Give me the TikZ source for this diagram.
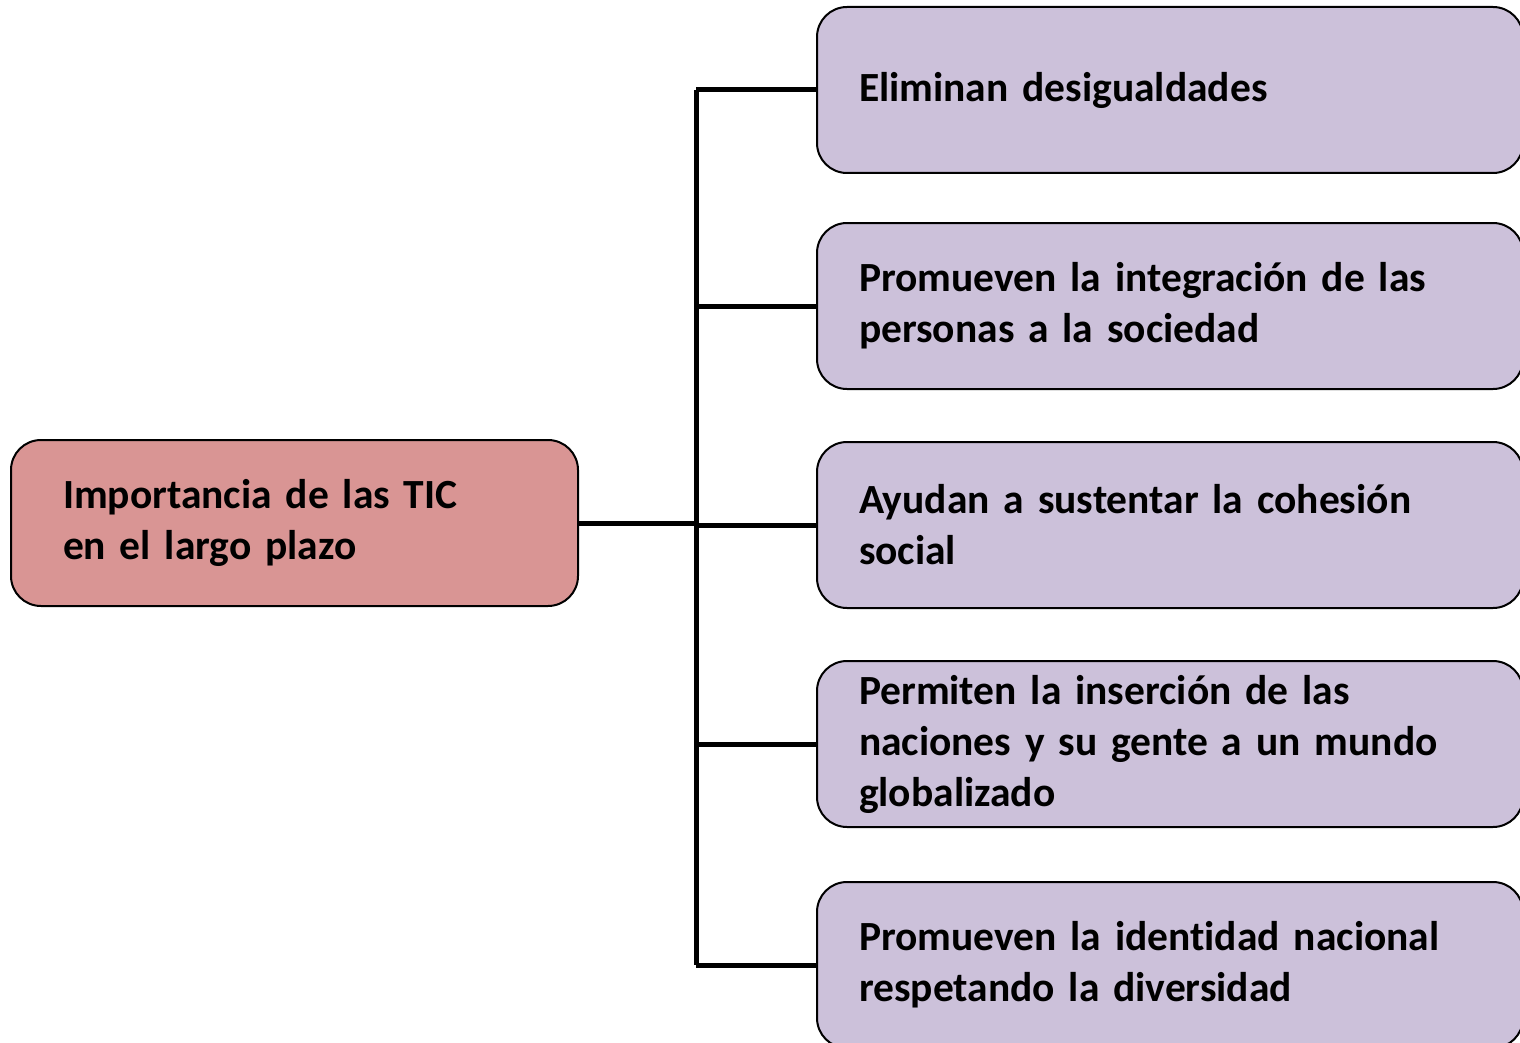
\documentclass[tikz,border=0pt]{standalone}
\usepackage{fontspec}
\setmainfont{Carlito}[Ligatures={NoCommon,TeX}]
\definecolor{rootfill}{HTML}{D99594}
\definecolor{leaffill}{HTML}{CCC1DA}
\newcommand{\myboxfont}{\fontsize{41.5}{51}\selectfont\bfseries}
\begin{document}
\begin{tikzpicture}[x=1pt,y=-1pt,
  box/.style={draw=black, line width=2pt, rounded corners=30pt, align=left,
    inner xsep=42pt, inner ysep=0pt, font=\myboxfont},
  leaf/.style={box, fill=leaffill, minimum width=706pt, text width=622pt, minimum height=166pt, anchor=north west},
  conn/.style={line width=5pt, draw=black}]
\useasboundingbox (0,0) rectangle (1520,1043);
\node[box, fill=rootfill, inner xsep=52pt, minimum width=567pt, text width=463pt, minimum height=166pt, anchor=north west] (root) at (10,439) {Importancia de las TIC\\en el largo plazo};
\node[leaf] (b1) at (816,6) {Eliminan desigualdades};
\node[leaf] (b2) at (816,222) {Promueven la integración de las\\personas a la sociedad};
\node[leaf] (b3) at (816,441) {Ayudan a sustentar la cohesión\\social};
\node[leaf] (b4) at (816,660) {Permiten la inserción de las\\naciones y su gente a un mundo\\globalizado};
\node[leaf] (b5) at (816,881) {Promueven la identidad nacional\\respetando la diversidad};
\coordinate (ttop) at (696,89);
\draw[conn] (b1.west -| ttop) -- (b5.west -| ttop);
\draw[conn] (root.east) -- (root.east -| ttop);
\foreach \i in {1,...,5} { \draw[conn] (b\i.west -| ttop) -- (b\i.west); }
\end{tikzpicture}
\end{document}
